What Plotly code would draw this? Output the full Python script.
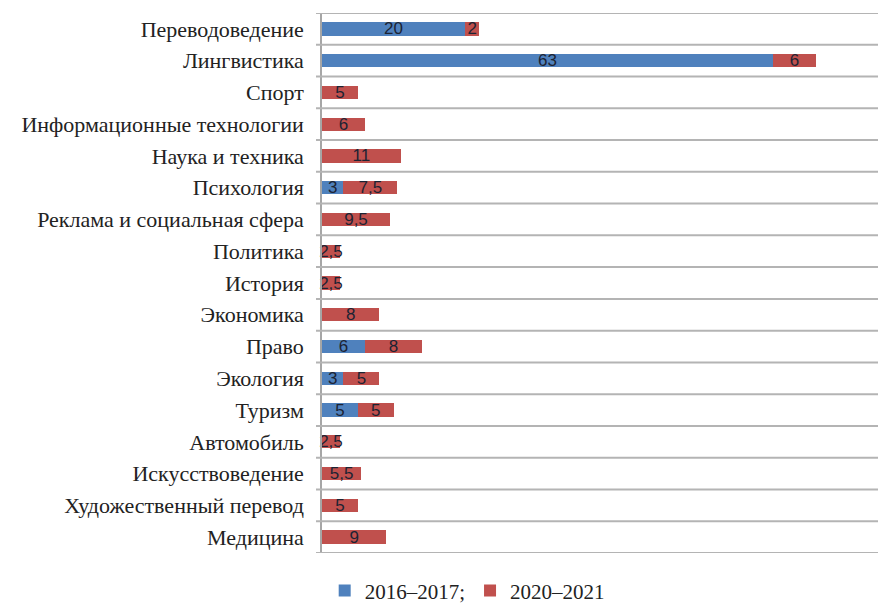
import plotly.graph_objects as go

categories = ["Переводоведение", "Лингвистика", "Спорт", "Информационные технологии",
              "Наука и техника", "Психология", "Реклама и социальная сфера", "Политика",
              "История", "Экономика", "Право", "Экология", "Туризм", "Автомобиль",
              "Искусствоведение", "Художественный перевод", "Медицина"]
values_2016 = [20, 63, 0, 0, 0, 3, 0, 0, 0, 0, 6, 3, 5, 0, 0, 0, 0]
values_2020 = [2, 6, 5, 6, 11, 7.5, 9.5, 2.5, 2.5, 8, 8, 5, 5, 2.5, 5.5, 5, 9]
series_names = ["2016–2017;", "2020–2021"]


def fmt(v):
    if v == 0:
        return ""
    return ("%g" % v).replace(".", ",")


positions = list(range(len(categories)))
boundaries = [i - 0.5 for i in range(len(categories) + 1)]

label_font = dict(family="Liberation Sans, Arial, sans-serif", size=17, color="#1c2333")
serif = "Liberation Serif, Times New Roman, serif"
grid_color = "#b4b4b4"

fig = go.Figure()
for name, vals, color in [(series_names[0], values_2016, "#4F81BD"),
                          (series_names[1], values_2020, "#C0504D")]:
    fig.add_trace(go.Bar(
        y=positions, x=vals, name=name, orientation="h",
        marker=dict(color=color, line=dict(width=0)),
        text=[fmt(v) for v in vals],
        textposition="inside", insidetextanchor="middle",
        constraintext="none", textangle=0,
        insidetextfont=label_font, outsidetextfont=label_font,
        cliponaxis=False,
    ))

# category boundary grid lines with short outward tick marks
plot_width_px = 564
for b in boundaries:
    fig.add_shape(type="line", xref="paper", yref="y",
                  x0=-6 / plot_width_px, x1=1, y0=b, y1=b,
                  line=dict(color=grid_color, width=2), layer="above")

fig.update_layout(
    barmode="stack",
    bargap=0.58,
    width=878, height=596,
    margin=dict(l=314, r=0, t=5, b=51, autoexpand=False),
    plot_bgcolor="white", paper_bgcolor="white",
    font=dict(family=serif, color="#222222"),
    showlegend=True,
    legend=dict(orientation="h", xref="container", yref="container",
                x=0.523, xanchor="center", y=0.022, yanchor="middle",
                font=dict(size=21, family=serif, color="#222222"),
                traceorder="normal", itemwidth=30),
)
fig.update_xaxes(range=[0, 78.8], showgrid=False, showticklabels=False, zeroline=False,
                 showline=False, ticks="", automargin=False)
fig.update_yaxes(range=[len(categories) - 0.5, -0.5],
                 tickmode="array", tickvals=positions, ticktext=categories,
                 ticks="outside", ticklen=12, tickcolor="rgba(0,0,0,0)",
                 showgrid=False, zeroline=False,
                 showline=True, linecolor="#a6a6a6", linewidth=1.5,
                 tickfont=dict(size=22, family=serif, color="#222222"),
                 automargin=False)

fig.write_html("out.html")
